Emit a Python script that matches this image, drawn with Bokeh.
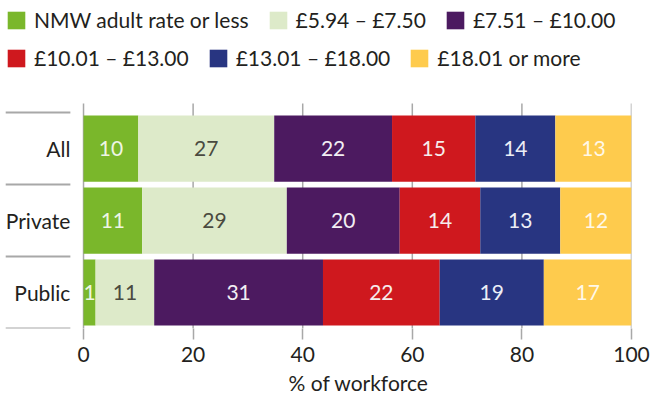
from bokeh.plotting import figure
from bokeh.models import ColumnDataSource, Legend, LegendItem, FixedTicker, Range1d, Title
from bokeh.core.properties import value
from bokeh.embed import file_html
from bokeh.resources import INLINE

# ---- data ----
categories = ["All", "Private", "Public"]
series_names = ["NMW adult rate or less", "£5.94 – £7.50", "£7.51 – £10.00",
                "£10.01 – £13.00", "£13.01 – £18.00", "£18.01 or more"]
nmw_or_less = [10.0, 10.7, 2.2]
band_594_750 = [24.8, 26.4, 10.7]
band_751_1000 = [21.5, 20.6, 30.8]
band_1001_1300 = [15.2, 14.7, 21.3]
band_1301_1800 = [14.6, 14.6, 19.0]
band_1801_more = [13.9, 13.0, 16.0]
shown_labels = [
    ["10", "11", "1"],
    ["27", "29", "11"],
    ["22", "20", "31"],
    ["15", "14", "22"],
    ["14", "13", "19"],
    ["13", "12", "17"],
]
x_ticks = [0, 20, 40, 60, 80, 100]
x_title = "% of workforce"

colors = ["#7AB72B", "#DDEAC9", "#4C1A60", "#CF181E", "#283581", "#FECB4D"]
label_colors = ["#EEF5E4", "#4A4A40", "#F2EEF4", "#F6ECEC", "#ECEEF6", "#FFF8E8"]

FONT = "Lato"
FS = "21px"
values_all = [nmw_or_less, band_594_750, band_751_1000, band_1001_1300, band_1301_1800, band_1801_more]
keys = ["s%d" % i for i in range(len(series_names))]
ypos = [len(categories) - 1 - i for i in range(len(categories))]

data = {"y": ypos}
for k, v in zip(keys, values_all):
    data[k] = v
src = ColumnDataSource(data)

X0 = -15.15
TOP_Y = 2.625
p = figure(width=651, height=398, output_backend="svg", toolbar_location=None,
           x_range=Range1d(X0, 100), y_range=Range1d(-0.5, 4.056),
           y_axis_location=None, min_border_left=0, min_border_right=20,
           min_border_top=0, min_border_bottom=70)
p.outline_line_color = None
p.ygrid.visible = False
p.xgrid.visible = False

# vertical grid lines (bounded to the bar area)
p.segment(x0=x_ticks, x1=x_ticks, y0=[-0.5] * len(x_ticks), y1=[TOP_Y] * len(x_ticks),
          line_color="#A8A8A8", line_width=1.5)

renderers = p.hbar_stack(keys, y="y", height=0.92, color=colors, source=src, line_color=None)

# bar labels
lx, ly, lt, lc = [], [], [], []
for ci in range(len(categories)):
    start = 0.0
    for si, vals in enumerate(values_all):
        w = vals[ci]
        lx.append(start + w / 2.0)
        ly.append(ypos[ci])
        lt.append(shown_labels[si][ci])
        lc.append(label_colors[si])
        start += w
p.text(x=lx, y=ly, text=lt, text_color=lc, text_align="center", text_baseline="middle",
       text_font=value(FONT), text_font_size=FS)

# category labels and separators
p.text(x=[-2.4] * len(categories), y=ypos, text=categories, text_color="#231F20",
       text_align="right", text_baseline="middle", text_font=value(FONT), text_font_size=FS)
bounds = [i - 0.5 for i in range(len(categories) + 1)]
p.segment(x0=[-14.2] * len(bounds), x1=[-2.4] * len(bounds), y0=bounds, y1=bounds,
          line_color="#A8A8A8", line_width=2)

# x axis
ax = p.xaxis[0]
ax.ticker = FixedTicker(ticks=x_ticks)
ax.axis_line_color = None
ax.major_tick_line_color = "#A8A8A8"
ax.major_tick_line_width = 1.5
ax.major_tick_out = 11
ax.major_tick_in = 0
ax.minor_tick_line_color = None
ax.major_label_standoff = 7
ax.major_label_text_font = FONT
ax.major_label_text_font_size = FS
ax.major_label_text_color = "#231F20"

# axis title, centred under the 0-100 scale
p.add_layout(Title(text=x_title, align="left", offset=288, text_font=FONT,
                   text_font_size=FS, text_font_style="normal",
                   text_color="#231F20", standoff=6), "below")

# legends (inside the top part of the frame)
def make_legend(idx, loc):
    lg = Legend(items=[LegendItem(label=series_names[i], renderers=[renderers[i]]) for i in idx],
                orientation="horizontal", location=loc,
                label_text_font=FONT, label_text_font_size=FS, label_text_color="#231F20",
                glyph_width=22, glyph_height=22, label_standoff=7, spacing=18,
                padding=0, margin=0, border_line_color=None, background_fill_alpha=0)
    return lg

p.add_layout(make_legend([0, 1, 2], (5, 296)))
p.add_layout(make_legend([3, 4, 5], (5, 258)))

open("out.html", "w").write(file_html(p, INLINE))
